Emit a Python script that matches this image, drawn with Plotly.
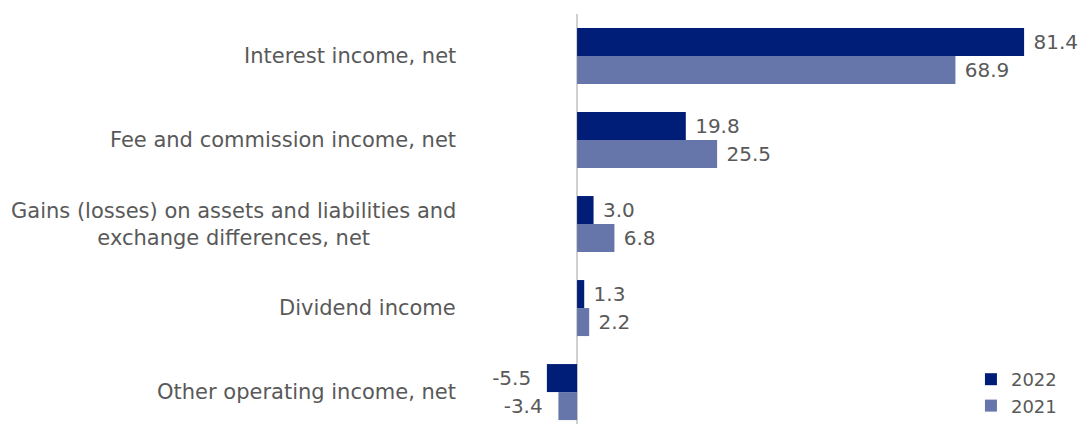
import plotly.graph_objects as go

categories = [
    "Interest income, net",
    "Fee and commission income, net",
    "Gains (losses) on assets and liabilities and<br>exchange differences, net",
    "Dividend income",
    "Other operating income, net",
]
values_2022 = [81.4, 19.8, 3.0, 1.3, -5.5]
values_2021 = [68.9, 25.5, 6.8, 2.2, -3.4]

COL_2022 = "#001e77"
COL_2021 = "#6676ab"
TXT = "#595959"
FONT = "DejaVu Sans"
NB = "\u00a0"


def labels(vals):
    out = []
    for v in vals:
        s = f"{v:.1f}"
        out.append(NB + s if v >= 0 else s + NB * 2)
    return out


fig = go.Figure()
fig.add_trace(go.Bar(
    y=categories, x=values_2022, name="2022", orientation="h",
    marker=dict(color=COL_2022, line=dict(width=0)),
    text=labels(values_2022), textposition="outside", cliponaxis=False,
    textfont=dict(family=FONT, size=20, color=TXT),
))
fig.add_trace(go.Bar(
    y=categories, x=values_2021, name="2021", orientation="h",
    marker=dict(color=COL_2021, line=dict(width=0)),
    text=labels(values_2021), textposition="outside", cliponaxis=False,
    textfont=dict(family=FONT, size=20, color=TXT),
))

for c in categories:
    fig.add_annotation(
        x=0, xref="paper", xanchor="right", xshift=-12,
        y=c, yref="y", yanchor="middle",
        text=c, showarrow=False, align="center",
        font=dict(family=FONT, size=21, color=TXT),
    )

fig.update_layout(
    width=1079, height=424,
    margin=dict(l=470, r=0, t=14, b=0),
    paper_bgcolor="white", plot_bgcolor="white",
    barmode="group", bargap=1/3, bargroupgap=0,
    font=dict(family=FONT, size=18, color=TXT),
    showlegend=True,
    legend=dict(
        x=0.972, xanchor="right", y=0, yanchor="bottom",
        font=dict(family=FONT, size=18, color=TXT),
        bgcolor="rgba(0,0,0,0)", tracegroupgap=0, itemwidth=30,
    ),
)
fig.update_xaxes(
    range=[-19.5, 91.4], showgrid=False, showticklabels=False,
    zeroline=True, zerolinecolor="#d0d0d0", zerolinewidth=1.5,
    showline=False, ticks="",
)
fig.update_yaxes(
    type="category", range=[4.38, -0.5], showgrid=False,
    showticklabels=False, showline=False, ticks="", zeroline=False,
)

fig.write_html("out.html")
